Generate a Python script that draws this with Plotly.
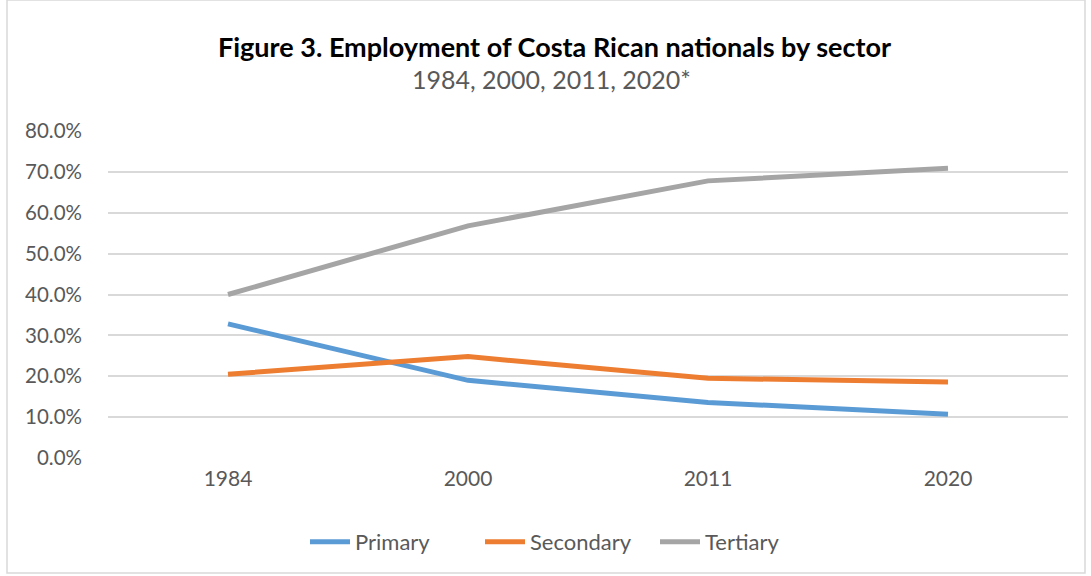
import plotly.graph_objects as go

years = ["1984", "2000", "2011", "2020"]
primary = [0.328, 0.190, 0.136, 0.107]
secondary = [0.205, 0.248, 0.195, 0.186]
tertiary = [0.400, 0.568, 0.678, 0.709]
y_ticks = [0.0, 0.1, 0.2, 0.3, 0.4, 0.5, 0.6, 0.7, 0.8]

FONT = "Lato"
GRAY_TXT = "#595959"

fig = go.Figure()
for name, vals, color in [
    ("Primary", primary, "#5b9bd5"),
    ("Secondary", secondary, "#ed7d31"),
    ("Tertiary", tertiary, "#a5a5a5"),
]:
    fig.add_trace(go.Scatter(
        x=years, y=vals, name=name, mode="lines",
        line=dict(color=color, width=5, shape="linear"),
    ))

W, H = 1091, 576
L, R, T, B = 108, 23, 131, 118
pw, ph = W - L - R, H - T - B

def px(x):
    return (x - L) / pw

def py(y):
    return (H - B - y) / ph

fig.update_layout(
    width=W, height=H,
    margin=dict(l=L, r=R, t=T, b=B),
    paper_bgcolor="white", plot_bgcolor="white",
    font=dict(family=FONT, color=GRAY_TXT, size=20),
    showlegend=True,
    legend=dict(
        orientation="h", x=px(305), xanchor="left", y=py(542), yanchor="middle",
        font=dict(size=22, color=GRAY_TXT), itemwidth=40,
        entrywidth=120, entrywidthmode="pixels",
    ),
    xaxis=dict(
        type="category", showgrid=False, zeroline=False, showline=False,
        ticks="", tickfont=dict(size=21, color=GRAY_TXT), range=[-0.5, 3.5],
        ticklabelstandoff=6,
    ),
    yaxis=dict(
        range=[0, 0.8], tickvals=y_ticks, tickformat=".1%",
        showgrid=True, gridcolor="#d9d9d9", gridwidth=2, zeroline=False,
        showline=False, ticks="", ticklabelstandoff=25,
        tickfont=dict(size=20.5, color=GRAY_TXT),
    ),
    annotations=[
        dict(text="<b>Figure 3. Employment of Costa Rican nationals by sector</b>",
             xref="paper", yref="paper", x=px(554), y=py(46), xanchor="center",
             yanchor="middle", showarrow=False,
             font=dict(family=FONT, size=27, color="#000000")),
        dict(text="1984, 2000, 2011, 2020*",
             xref="paper", yref="paper", x=px(551), y=py(79), xanchor="center",
             yanchor="middle", showarrow=False,
             font=dict(family=FONT, size=25, color=GRAY_TXT)),
    ],
    shapes=[
        dict(type="rect", xref="paper", yref="paper",
             x0=px(7), x1=px(1085), y0=py(573), y1=py(0),
             line=dict(color="#d9d9d9", width=1.5), layer="below"),
    ],
)

fig.write_html("out.html")
